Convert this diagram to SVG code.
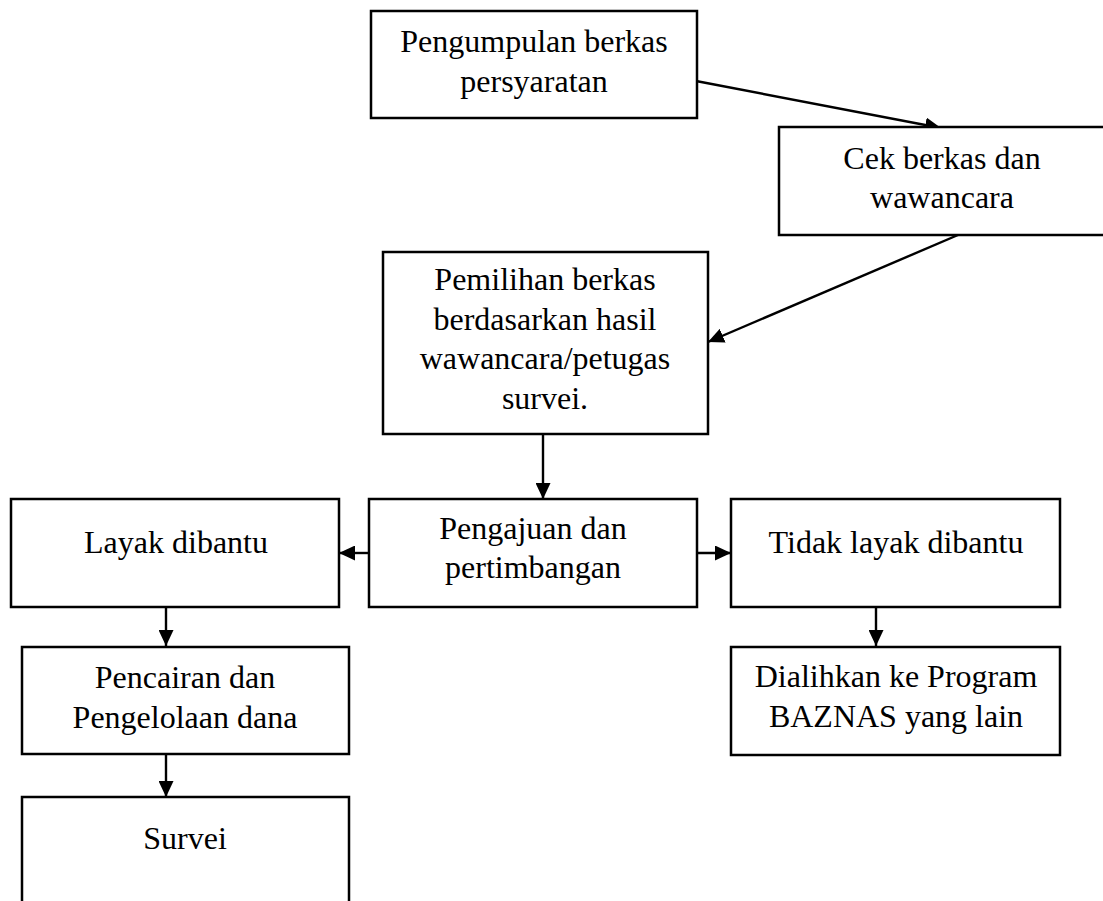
<svg xmlns="http://www.w3.org/2000/svg" width="1103" height="901" viewBox="0 0 1103 901">
<style>
.box{fill:#fff;stroke:#000;stroke-width:2.5}
.t{font-family:"Liberation Serif","Times New Roman",serif;font-size:32px;fill:#000;text-anchor:middle}
.c{stroke:#000;stroke-width:2.4;fill:none;marker-end:url(#ah)}
</style>
<defs>
<marker id="ah" markerUnits="userSpaceOnUse" markerWidth="16" markerHeight="15" refX="16" refY="7.5" orient="auto">
<path d="M0,0 L16,7.5 L0,15 z" fill="#000"/>
</marker>
</defs>
<rect width="1103" height="901" fill="#fff"/>
<g id="connectors">
<line class="c" x1="696" y1="81" x2="941" y2="128"/>
<line class="c" x1="958" y1="235" x2="708" y2="342"/>
<line class="c" x1="543" y1="434" x2="543" y2="499"/>
<line class="c" x1="369" y1="553" x2="339" y2="553"/>
<line class="c" x1="697" y1="553" x2="731" y2="553"/>
<line class="c" x1="166" y1="607" x2="166" y2="646"/>
<line class="c" x1="166" y1="754" x2="166" y2="797"/>
<line class="c" x1="876" y1="607" x2="876" y2="646"/>
</g>
<g id="n1">
<rect class="box" x="371" y="11" width="326" height="107"/>
<text class="t" x="534" y="52">Pengumpulan berkas</text>
<text class="t" x="534" y="92">persyaratan</text>
</g>
<g id="n2">
<rect class="box" x="779" y="127" width="328" height="108"/>
<text class="t" x="942" y="169">Cek berkas dan</text>
<text class="t" x="942" y="208">wawancara</text>
</g>
<g id="n3">
<rect class="box" x="383" y="252" width="325" height="182"/>
<text class="t" x="545" y="290">Pemilihan berkas</text>
<text class="t" x="545" y="330">berdasarkan hasil</text>
<text class="t" x="545" y="369">wawancara/petugas</text>
<text class="t" x="545" y="409">survei.</text>
</g>
<g id="n4">
<rect class="box" x="369" y="499" width="328" height="108"/>
<text class="t" x="533" y="539">Pengajuan dan</text>
<text class="t" x="533" y="578">pertimbangan</text>
</g>
<g id="n5">
<rect class="box" x="11" y="499" width="328" height="108"/>
<text class="t" x="176" y="553">Layak dibantu</text>
</g>
<g id="n6">
<rect class="box" x="731" y="499" width="329" height="108"/>
<text class="t" x="896" y="553">Tidak layak dibantu</text>
</g>
<g id="n7">
<rect class="box" x="22" y="647" width="327" height="107"/>
<text class="t" x="185" y="688">Pencairan dan</text>
<text class="t" x="185" y="728">Pengelolaan dana</text>
</g>
<g id="n8">
<rect class="box" x="731" y="647" width="329" height="108"/>
<text class="t" x="896" y="687">Dialihkan ke Program</text>
<text class="t" x="896" y="727">BAZNAS yang lain</text>
</g>
<g id="n9">
<rect class="box" x="22" y="797" width="327" height="120"/>
<text class="t" x="185" y="849">Survei</text>
</g>
</svg>
